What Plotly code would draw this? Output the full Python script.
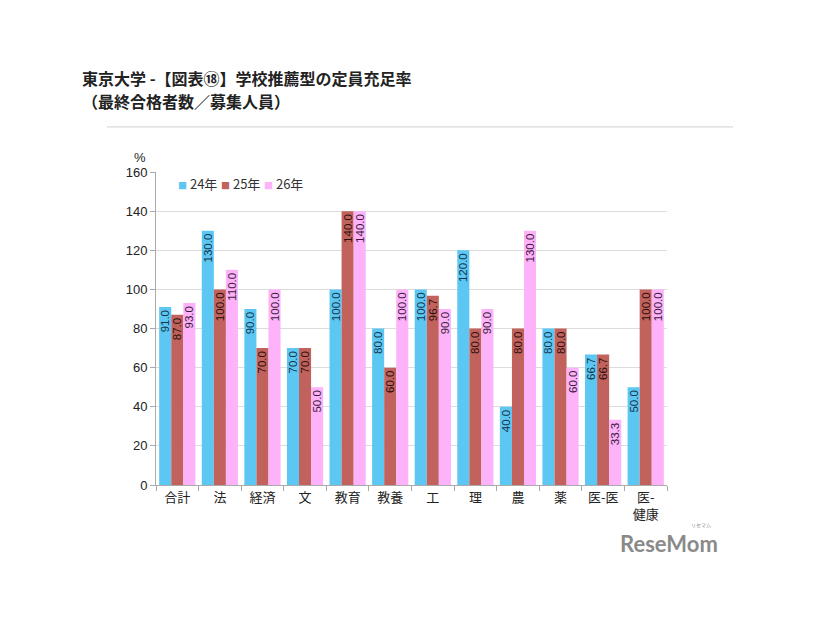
import plotly.graph_objects as go

# 東京大学 学校推薦型の定員充足率（%）
gakubu = ['合計', '法', '経済', '文', '教育', '教養', '工', '理', '農', '薬', '医-医', '医-<br>健康']
y24 = [91.0, 130.0, 90.0, 70.0, 100.0, 80.0, 100.0, 120.0, 40.0, 80.0, 66.7, 50.0]
y25 = [87.0, 100.0, 70.0, 70.0, 140.0, 60.0, 96.7, 80.0, 80.0, 80.0, 66.7, 100.0]
y26 = [93.0, 110.0, 100.0, 50.0, 140.0, 100.0, 90.0, 90.0, 130.0, 60.0, 33.3, 100.0]

series = [
    ('24年', y24, '#5DC7F3', '#12344a'),
    ('25年', y25, '#C1625D', '#2a0e0c'),
    ('26年', y26, '#FDB2F9', '#3a1a3a'),
]

FONT = 'Noto Sans CJK JP, sans-serif'
NUMFONT = 'Liberation Sans, Arial, sans-serif'

fig = go.Figure()
for name, vals, col, tcol in series:
    fig.add_trace(go.Bar(
        name=name,
        x=gakubu,
        y=vals,
        marker=dict(color=col, line=dict(width=0)),
        text=[f'{v:.1f}' for v in vals],
        textposition='inside',
        insidetextanchor='end',
        textangle=-90,
        textfont=dict(size=11.5, color=tcol, family=NUMFONT),
        showlegend=False,
    ))

# ページ余白 8px 分を差し引いた余白
fig.update_layout(
    width=826, height=620,
    barmode='group',
    bargap=0.15,
    bargroupgap=0,
    plot_bgcolor='white',
    paper_bgcolor='white',
    margin=dict(l=148, r=167, t=164, b=143),
    font=dict(family=FONT, color='#222'),
    uniformtext=dict(minsize=11, mode='show'),
    showlegend=False,
)

fig.update_xaxes(
    showline=True, linecolor='#aaa', linewidth=1,
    ticks='outside', tickson='boundaries', ticklen=5, tickcolor='#aaa',
    tickfont=dict(size=13, color='#222'),
    showgrid=False,
)
fig.update_yaxes(
    range=[0, 160], dtick=20,
    showline=True, linecolor='#aaa', linewidth=1,
    ticks='outside', ticklen=5, tickcolor='#aaa',
    showgrid=True, gridcolor='#dcdcdc', gridwidth=1,
    tickfont=dict(size=13, color='#222', family=NUMFONT),
    zeroline=False,
)

# タイトル
fig.add_annotation(text='<b>東京大学 -【図表⑱】学校推薦型の定員充足率</b>',
                   xref='paper', yref='paper', x=-0.149, y=1.300,
                   xanchor='left', yanchor='middle', showarrow=False,
                   font=dict(size=16, color='#222', family=FONT))
fig.add_annotation(text='<b>（最終合格者数／募集人員）</b>',
                   xref='paper', yref='paper', x=-0.149, y=1.227,
                   xanchor='left', yanchor='middle', showarrow=False,
                   font=dict(size=16, color='#222', family=FONT))

# 区切り線
fig.add_shape(type='line', xref='paper', yref='paper',
              x0=-0.096, x1=1.129, y0=1.144, y1=1.144,
              line=dict(color='#d0d0d0', width=1))

fig.add_annotation(text='%', xref='paper', yref='paper', x=-0.031, y=1.045,
                   xanchor='center', yanchor='middle', showarrow=False,
                   font=dict(size=13, color='#222', family=NUMFONT))

# 凡例
legend_x = [0.04, 0.124, 0.208]
for (name, vals, col, tcol), lx in zip(series, legend_x):
    fig.add_annotation(
        text=f'<span style="color:{col};font-size:9px">■</span> <span style="color:#333">{name}</span>',
        xref='paper', yref='paper', x=lx, y=0.962,
        xanchor='left', yanchor='middle', showarrow=False,
        font=dict(size=13, family=FONT))

# ウォーターマーク
fig.add_annotation(text='<b>ReseMom</b>', xref='paper', yref='paper',
                   x=1.104, y=-0.187, xanchor='right', yanchor='middle', showarrow=False,
                   font=dict(size=22, color='#8a8a8a', family='Lato, sans-serif'))
fig.add_annotation(text='リセマム', xref='paper', yref='paper',
                   x=1.09, y=-0.128, xanchor='right', yanchor='middle', showarrow=False,
                   font=dict(size=5, color='#8a8a8a', family=FONT))

fig.write_html('out.html')
